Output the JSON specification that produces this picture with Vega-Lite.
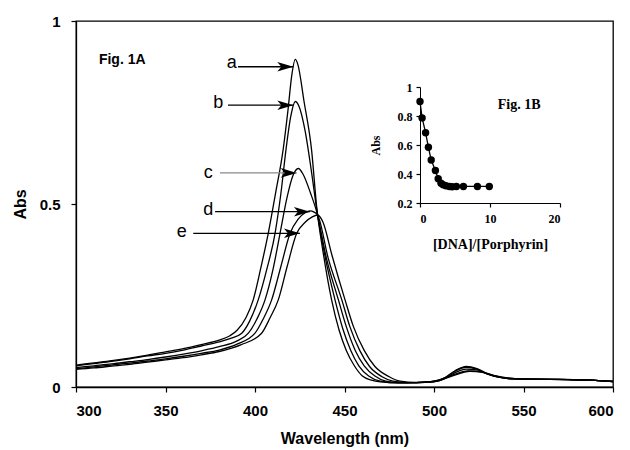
{
  "$schema": "https://vega.github.io/schema/vega-lite/v6.json",
  "width": 537,
  "height": 366,
  "autosize": {"type": "none"},
  "padding": {"left": 76, "top": 21, "right": 17, "bottom": 63},
  "background": "white",
  "config": {
    "view": {"stroke": "black", "strokeWidth": 1.3},
    "axis": {
      "grid": false,
      "domainColor": "black",
      "domainWidth": 1.3,
      "tickColor": "black",
      "tickWidth": 1.2,
      "labelColor": "black",
      "titleColor": "black"
    }
  },
  "datasets": {
    "spectra": [
      {"c":"a","w":300,"A":0.060},{"c":"a","w":310,"A":0.066},{"c":"a","w":320,"A":0.072},{"c":"a","w":330,"A":0.079},{"c":"a","w":340,"A":0.087},{"c":"a","w":350,"A":0.096},{"c":"a","w":360,"A":0.105},{"c":"a","w":370,"A":0.116},{"c":"a","w":380,"A":0.128},{"c":"a","w":386,"A":0.140},{"c":"a","w":390,"A":0.155},{"c":"a","w":395,"A":0.190},{"c":"a","w":399,"A":0.238},{"c":"a","w":403,"A":0.320},{"c":"a","w":407.4,"A":0.420},{"c":"a","w":411.5,"A":0.530},{"c":"a","w":415.7,"A":0.648},{"c":"a","w":418.5,"A":0.760},{"c":"a","w":420.5,"A":0.850},{"c":"a","w":422.5,"A":0.895},{"c":"a","w":424,"A":0.880},{"c":"a","w":427.4,"A":0.780},{"c":"a","w":431.6,"A":0.648},{"c":"a","w":434.5,"A":0.490},{"c":"a","w":438,"A":0.370},{"c":"a","w":442.8,"A":0.238},{"c":"a","w":447,"A":0.155},{"c":"a","w":451,"A":0.100},{"c":"a","w":455.5,"A":0.058},{"c":"a","w":460,"A":0.030},{"c":"a","w":465,"A":0.019},{"c":"a","w":470,"A":0.014},{"c":"a","w":480,"A":0.011},{"c":"a","w":490,"A":0.012},{"c":"a","w":500,"A":0.016},{"c":"a","w":506,"A":0.025},{"c":"a","w":512,"A":0.045},{"c":"a","w":518,"A":0.056},{"c":"a","w":524,"A":0.050},{"c":"a","w":530,"A":0.036},{"c":"a","w":537,"A":0.026},{"c":"a","w":545,"A":0.022},{"c":"a","w":560,"A":0.021},{"c":"a","w":575,"A":0.020},{"c":"a","w":590,"A":0.018},{"c":"a","w":600,"A":0.015},
      {"c":"b","w":300,"A":0.058},{"c":"b","w":310,"A":0.064},{"c":"b","w":320,"A":0.070},{"c":"b","w":330,"A":0.077},{"c":"b","w":340,"A":0.085},{"c":"b","w":350,"A":0.092},{"c":"b","w":360,"A":0.101},{"c":"b","w":370,"A":0.112},{"c":"b","w":380,"A":0.123},{"c":"b","w":386,"A":0.132},{"c":"b","w":392.6,"A":0.147},{"c":"b","w":397,"A":0.180},{"c":"b","w":401.8,"A":0.238},{"c":"b","w":406.5,"A":0.320},{"c":"b","w":411.2,"A":0.420},{"c":"b","w":414.5,"A":0.530},{"c":"b","w":417.3,"A":0.648},{"c":"b","w":420,"A":0.740},{"c":"b","w":422.5,"A":0.780},{"c":"b","w":424.5,"A":0.768},{"c":"b","w":428,"A":0.700},{"c":"b","w":431.5,"A":0.590},{"c":"b","w":434.5,"A":0.485},{"c":"b","w":439,"A":0.360},{"c":"b","w":444.7,"A":0.238},{"c":"b","w":449,"A":0.160},{"c":"b","w":453.5,"A":0.100},{"c":"b","w":458,"A":0.058},{"c":"b","w":463.5,"A":0.030},{"c":"b","w":470,"A":0.016},{"c":"b","w":480,"A":0.011},{"c":"b","w":490,"A":0.012},{"c":"b","w":500,"A":0.016},{"c":"b","w":506,"A":0.025},{"c":"b","w":512,"A":0.044},{"c":"b","w":518,"A":0.054},{"c":"b","w":524,"A":0.049},{"c":"b","w":530,"A":0.035},{"c":"b","w":537,"A":0.026},{"c":"b","w":545,"A":0.022},{"c":"b","w":560,"A":0.021},{"c":"b","w":575,"A":0.020},{"c":"b","w":590,"A":0.018},{"c":"b","w":600,"A":0.015},
      {"c":"c","w":300,"A":0.053},{"c":"c","w":310,"A":0.058},{"c":"c","w":320,"A":0.063},{"c":"c","w":330,"A":0.069},{"c":"c","w":340,"A":0.075},{"c":"c","w":350,"A":0.082},{"c":"c","w":360,"A":0.090},{"c":"c","w":370,"A":0.099},{"c":"c","w":380,"A":0.110},{"c":"c","w":390,"A":0.126},{"c":"c","w":396.3,"A":0.147},{"c":"c","w":401,"A":0.185},{"c":"c","w":405.6,"A":0.238},{"c":"c","w":410,"A":0.320},{"c":"c","w":414,"A":0.420},{"c":"c","w":418,"A":0.520},{"c":"c","w":421,"A":0.575},{"c":"c","w":424.2,"A":0.597},{"c":"c","w":427,"A":0.580},{"c":"c","w":431,"A":0.530},{"c":"c","w":434.5,"A":0.478},{"c":"c","w":440,"A":0.350},{"c":"c","w":446.6,"A":0.238},{"c":"c","w":451,"A":0.165},{"c":"c","w":456,"A":0.100},{"c":"c","w":461,"A":0.058},{"c":"c","w":467,"A":0.030},{"c":"c","w":473,"A":0.016},{"c":"c","w":480,"A":0.012},{"c":"c","w":490,"A":0.012},{"c":"c","w":500,"A":0.015},{"c":"c","w":506,"A":0.023},{"c":"c","w":512,"A":0.040},{"c":"c","w":518,"A":0.049},{"c":"c","w":524,"A":0.047},{"c":"c","w":530,"A":0.035},{"c":"c","w":537,"A":0.026},{"c":"c","w":545,"A":0.022},{"c":"c","w":560,"A":0.021},{"c":"c","w":575,"A":0.020},{"c":"c","w":590,"A":0.018},{"c":"c","w":600,"A":0.015},
      {"c":"d","w":300,"A":0.050},{"c":"d","w":310,"A":0.055},{"c":"d","w":320,"A":0.060},{"c":"d","w":330,"A":0.065},{"c":"d","w":340,"A":0.071},{"c":"d","w":350,"A":0.077},{"c":"d","w":360,"A":0.084},{"c":"d","w":370,"A":0.092},{"c":"d","w":380,"A":0.101},{"c":"d","w":390,"A":0.117},{"c":"d","w":400,"A":0.147},{"c":"d","w":404.5,"A":0.185},{"c":"d","w":409.3,"A":0.238},{"c":"d","w":414.5,"A":0.330},{"c":"d","w":419.6,"A":0.420},{"c":"d","w":424,"A":0.458},{"c":"d","w":428,"A":0.476},{"c":"d","w":430.7,"A":0.481},{"c":"d","w":433,"A":0.478},{"c":"d","w":435,"A":0.470},{"c":"d","w":441,"A":0.350},{"c":"d","w":448.5,"A":0.238},{"c":"d","w":453,"A":0.165},{"c":"d","w":458.5,"A":0.100},{"c":"d","w":464,"A":0.056},{"c":"d","w":471,"A":0.028},{"c":"d","w":477,"A":0.016},{"c":"d","w":485,"A":0.012},{"c":"d","w":495,"A":0.013},{"c":"d","w":502,"A":0.017},{"c":"d","w":510,"A":0.032},{"c":"d","w":519,"A":0.044},{"c":"d","w":526,"A":0.042},{"c":"d","w":533,"A":0.032},{"c":"d","w":540,"A":0.025},{"c":"d","w":550,"A":0.022},{"c":"d","w":565,"A":0.021},{"c":"d","w":580,"A":0.020},{"c":"d","w":600,"A":0.015},
      {"c":"e","w":300,"A":0.048},{"c":"e","w":310,"A":0.052},{"c":"e","w":320,"A":0.057},{"c":"e","w":330,"A":0.062},{"c":"e","w":340,"A":0.068},{"c":"e","w":350,"A":0.074},{"c":"e","w":360,"A":0.080},{"c":"e","w":370,"A":0.088},{"c":"e","w":380,"A":0.097},{"c":"e","w":392,"A":0.115},{"c":"e","w":403.7,"A":0.147},{"c":"e","w":408.5,"A":0.190},{"c":"e","w":413,"A":0.238},{"c":"e","w":418,"A":0.330},{"c":"e","w":423.3,"A":0.420},{"c":"e","w":428,"A":0.450},{"c":"e","w":432,"A":0.465},{"c":"e","w":435,"A":0.470},{"c":"e","w":438,"A":0.450},{"c":"e","w":443,"A":0.360},{"c":"e","w":450.3,"A":0.238},{"c":"e","w":455,"A":0.165},{"c":"e","w":461,"A":0.100},{"c":"e","w":467,"A":0.056},{"c":"e","w":475,"A":0.028},{"c":"e","w":481,"A":0.016},{"c":"e","w":490,"A":0.012},{"c":"e","w":500,"A":0.014},{"c":"e","w":510,"A":0.030},{"c":"e","w":520,"A":0.043},{"c":"e","w":527,"A":0.040},{"c":"e","w":534,"A":0.031},{"c":"e","w":541,"A":0.025},{"c":"e","w":550,"A":0.022},{"c":"e","w":565,"A":0.021},{"c":"e","w":580,"A":0.020},{"c":"e","w":600,"A":0.015}
    ],
    "labels": [
      {"lab":"a","tx":387.0,"ty":0.884,"x1":390.5,"x2":421.4,"y":0.875},
      {"lab":"b","tx":379.5,"ty":0.777,"x1":384.9,"x2":421.4,"y":0.770},
      {"lab":"c","tx":373.9,"ty":0.585,"x1":380.4,"x2":423.3,"y":0.585},
      {"lab":"d","tx":373.9,"ty":0.484,"x1":377.7,"x2":430.7,"y":0.479},
      {"lab":"e","tx":359.1,"ty":0.423,"x1":365.5,"x2":425.1,"y":0.420}
    ],
    "figA": [{"t":"Fig. 1A","x":312.8,"y":0.893}],
    "inset": [
      {"r":0,"ab":0.900},{"r":0.3,"ab":0.787},{"r":0.8,"ab":0.685},{"r":1.2,"ab":0.584},{"r":1.6,"ab":0.497},{"r":2.2,"ab":0.424},{"r":2.6,"ab":0.367},{"r":3.0,"ab":0.337},{"r":3.3,"ab":0.326},{"r":3.7,"ab":0.319},{"r":4.2,"ab":0.314},{"r":4.6,"ab":0.312},{"r":5.2,"ab":0.314},{"r":6.2,"ab":0.314},{"r":8.2,"ab":0.314},{"r":9.9,"ab":0.314}
    ],
    "figB": [{"t":"Fig. 1B","r":11.1,"ab":0.876}]
  },
  "layer": [
    {
      "layer": [
        {
          "data": {"name": "spectra"},
          "mark": {"type": "line", "interpolate": "monotone", "strokeWidth": 1.3, "color": "black"},
          "encoding": {
            "x": {"field": "w", "type": "quantitative", "title": "Wavelength (nm)",
                  "scale": {"domain": [300, 600], "nice": false, "zero": false},
                  "axis": {"orient": "bottom", "values": [300, 350, 400, 450, 500, 550, 600], "tickSize": 5,
                           "labelFont": "Liberation Sans", "labelFontWeight": "bold", "labelFontSize": 15, "labelPadding": 11,
                           "titleFont": "Liberation Sans", "titleFontWeight": "bold", "titleFontSize": 16, "titlePadding": 12}},
            "y": {"field": "A", "type": "quantitative", "title": "Abs",
                  "scale": {"domain": [0, 1], "nice": false},
                  "axis": {"orient": "left", "values": [0, 0.5, 1], "format": "~g", "tickSize": 5,
                           "labelFont": "Liberation Sans", "labelFontWeight": "bold", "labelFontSize": 15, "labelPadding": 11,
                           "titleFont": "Liberation Sans", "titleFontWeight": "bold", "titleFontSize": 16, "titlePadding": 11}},
            "detail": {"field": "c", "type": "nominal"}
          }
        },
        {
          "data": {"name": "labels"},
          "mark": {"type": "rule", "strokeWidth": 1.3},
          "encoding": {
            "x": {"field": "x1", "type": "quantitative", "title": "Wavelength (nm)"},
            "x2": {"field": "x2"},
            "y": {"field": "y", "type": "quantitative", "title": "Abs"},
            "color": {"condition": {"test": "datum.lab === 'c'", "value": "#8a8a8a"}, "value": "black"}
          }
        },
        {
          "data": {"name": "labels"},
          "mark": {"type": "point", "shape": "M0,0L-2,-0.6L-1.5,0L-2,0.6Z", "filled": true, "size": 256, "color": "black", "opacity": 1},
          "encoding": {
            "x": {"field": "x2", "type": "quantitative", "title": "Wavelength (nm)"},
            "y": {"field": "y", "type": "quantitative", "title": "Abs"}
          }
        },
        {
          "data": {"name": "labels"},
          "mark": {"type": "text", "font": "Liberation Sans", "fontSize": 18, "align": "center", "baseline": "middle", "color": "black"},
          "encoding": {
            "x": {"field": "tx", "type": "quantitative", "title": "Wavelength (nm)"},
            "y": {"field": "ty", "type": "quantitative", "title": "Abs"},
            "text": {"field": "lab"}
          }
        },
        {
          "data": {"name": "figA"},
          "mark": {"type": "text", "font": "Liberation Sans", "fontWeight": "bold", "fontSize": 14, "align": "left", "baseline": "middle", "color": "black"},
          "encoding": {
            "x": {"field": "x", "type": "quantitative", "title": "Wavelength (nm)"},
            "y": {"field": "y", "type": "quantitative", "title": "Abs"},
            "text": {"field": "t"}
          }
        }
      ]
    },
    {
      "layer": [
        {
          "mark": {"type": "rect", "fill": "white", "stroke": "black", "strokeWidth": 1},
          "encoding": {
            "x": {"datum": 0, "type": "quantitative"},
            "x2": {"datum": 20},
            "y": {"datum": 0.2, "type": "quantitative"},
            "y2": {"datum": 1}
          }
        },
        {
          "data": {"name": "inset"},
          "mark": {"type": "line", "color": "black", "strokeWidth": 1.3, "point": {"filled": true, "size": 55, "color": "black", "opacity": 1}},
          "encoding": {
            "x": {"field": "r", "type": "quantitative", "title": "[DNA]/[Porphyrin]",
                  "scale": {"domain": [0, 20], "range": [344, 484], "nice": false, "zero": false},
                  "axis": {"orient": "bottom", "offset": -184, "values": [0, 10, 20], "tickSize": 4, "domainWidth": 1,
                           "labelFont": "Liberation Serif", "labelFontWeight": "bold", "labelFontSize": 12, "labelPadding": 6,
                           "titleFont": "Liberation Serif", "titleFontWeight": "bold", "titleFontSize": 14, "titlePadding": 13}},
            "y": {"field": "ab", "type": "quantitative", "title": "Abs",
                  "scale": {"domain": [0.2, 1], "range": [182, 66], "nice": false, "zero": false},
                  "axis": {"orient": "left", "offset": -344, "values": [0.2, 0.4, 0.6, 0.8, 1], "format": "~g", "tickSize": 4, "domainWidth": 1,
                           "labelFont": "Liberation Serif", "labelFontWeight": "bold", "labelFontSize": 12, "labelPadding": 4,
                           "titleFont": "Liberation Serif", "titleFontWeight": "bold", "titleFontSize": 12, "titlePadding": 15}}
          }
        },
        {
          "data": {"name": "figB"},
          "mark": {"type": "text", "font": "Liberation Serif", "fontWeight": "bold", "fontSize": 14, "align": "left", "baseline": "middle", "color": "black"},
          "encoding": {
            "x": {"field": "r", "type": "quantitative", "title": "[DNA]/[Porphyrin]"},
            "y": {"field": "ab", "type": "quantitative", "title": "Abs"},
            "text": {"field": "t"}
          }
        }
      ]
    }
  ],
  "resolve": {"scale": {"x": "independent", "y": "independent"}, "axis": {"x": "independent", "y": "independent"}}
}
